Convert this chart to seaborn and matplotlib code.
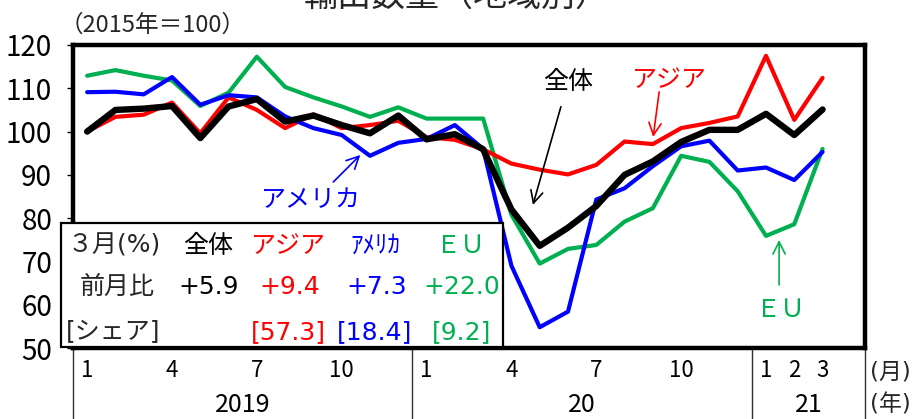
import matplotlib
matplotlib.use("Agg")
import matplotlib.pyplot as plt
from matplotlib.patches import Rectangle
import matplotlib.transforms as mtransforms
import numpy as np
import pandas as pd
import seaborn as sns

# ---- data: export volume index by region (2015 = 100), Jan 2019 - Mar 2021 ----
months = ["2019-01", "2019-02", "2019-03", "2019-04", "2019-05", "2019-06",
          "2019-07", "2019-08", "2019-09", "2019-10", "2019-11", "2019-12",
          "2020-01", "2020-02", "2020-03", "2020-04", "2020-05", "2020-06",
          "2020-07", "2020-08", "2020-09", "2020-10", "2020-11", "2020-12",
          "2021-01", "2021-02", "2021-03"]

total = [100.0, 105.0, 105.3, 105.9, 98.5, 105.8, 107.5, 102.3, 103.7, 101.5,
         99.6, 103.7, 98.2, 99.4, 95.9, 82.0, 73.6, 77.8, 82.8, 90.0,
         93.1, 97.6, 100.4, 100.4, 104.1, 99.2, 105.1]
asia = [100.0, 103.4, 103.9, 106.7, 99.6, 107.9, 105.0, 100.8, 104.0, 100.8,
        101.5, 102.5, 98.7, 98.1, 95.9, 92.6, 91.2, 90.1, 92.3, 97.7,
        97.1, 100.8, 102.0, 103.5, 117.5, 102.7, 112.4]
america = [109.1, 109.2, 108.6, 112.6, 106.2, 108.4, 107.9, 103.5, 100.8, 99.2,
           94.4, 97.4, 98.3, 101.5, 96.0, 69.0, 54.8, 58.4, 84.3, 86.9,
           92.0, 96.6, 97.9, 91.0, 91.7, 88.8, 95.3]
eu = [112.9, 114.2, 112.9, 111.8, 105.9, 109.0, 117.3, 110.3, 107.9, 105.8,
      103.4, 105.6, 103.0, 103.0, 103.0, 80.8, 69.5, 72.9, 73.8, 79.2,
      82.3, 94.4, 93.0, 86.2, 75.9, 78.6, 96.0]

month_tick_pos = [0, 3, 6, 9, 12, 15, 18, 21, 24, 25, 26]
month_tick_labels = ["1", "4", "7", "10", "1", "4", "7", "10", "1", "2", "3"]
year_labels = ["2019", "20", "21"]
year_bounds = [-0.5, 11.5, 23.5, 27.5]

# March 2021 summary table
tbl_regions = ["全体", "アジア", "ｱﾒﾘｶ", "ＥＵ"]
tbl_mom = ["+5.9", "+9.4", "+7.3", "+22.0"]
tbl_share = ["", "[57.3]", "[18.4]", "[9.2]"]

RED, BLUE, GREEN, BLACK = "#FF0000", "#0000FF", "#00B050", "#000000"

sns.set_theme(style="white")
plt.rcParams["font.family"] = ["DejaVu Sans", "Noto Sans CJK JP"]
NUM_FONT = ["Liberation Sans Narrow", "Noto Sans CJK JP"]

W, H = 919, 419
fig = plt.figure(figsize=(W / 100, H / 100), dpi=100)


def fx(px):
    return px / W


def fy(py):
    return 1 - py / H


ax = fig.add_axes([fx(73), fy(348), fx(865) - fx(73), fy(45) - fy(348)])

x = np.arange(len(months))
df = pd.DataFrame({"x": x, "全体": total, "アジア": asia,
                   "アメリカ": america, "ＥＵ": eu})

for col, color, lw in [("ＥＵ", GREEN, 3.0), ("アジア", RED, 3.0),
                       ("アメリカ", BLUE, 3.0), ("全体", BLACK, 4.6)]:
    sns.lineplot(data=df, x="x", y=col, color=color, linewidth=lw,
                 ax=ax, legend=False, sort=False)

ax.set_xlim(-0.5, 27.5)
ax.set_ylim(50, 120)
ax.set_xlabel("")
ax.set_ylabel("")

for s in ax.spines.values():
    s.set_visible(True)
    s.set_color("black")
    s.set_linewidth(3.2)

ax.set_yticks(range(50, 121, 10))
ax.tick_params(axis="y", left=True, length=4.5, width=1.0, color="black",
               pad=10.5, labelcolor="black")
ax.set_xticks(month_tick_pos)
ax.set_xticklabels(month_tick_labels)
ax.tick_params(axis="x", bottom=False, length=0, pad=8, labelcolor="black")
for t in ax.get_yticklabels():
    t.set_fontfamily(NUM_FONT)
    t.set_fontsize(20)
for t in ax.get_xticklabels():
    t.set_fontfamily(NUM_FONT)
    t.set_fontsize(16)

# year separators and year labels under the axis
trans = mtransforms.blended_transform_factory(ax.transData, ax.transAxes)
for b in year_bounds:
    ax.plot([b, b], [0, -0.3], color="#303030", lw=1.0, transform=trans,
            clip_on=False, zorder=1)
for i, lab in enumerate(year_labels):
    xm = (year_bounds[i] + year_bounds[i + 1]) / 2
    ax.text(xm, -0.188, lab, transform=trans, ha="center", va="center",
            fontsize=18, family=NUM_FONT, color="black")

fig.text(fx(870), fy(372), "(月)", ha="left", va="center", fontsize=16.5)
fig.text(fx(870), fy(405), "(年)", ha="left", va="center", fontsize=16.5)

# unit and title
fig.text(fx(60), fy(25), "（2015年＝100）", ha="left", va="center",
         fontsize=17, family=NUM_FONT)
fig.text(fx(457), fy(5.5), "輸出数量（地域別）", ha="center", va="baseline",
         fontsize=24.5)


def dx(px):
    return (px - 86.7) / 28.3


def dy(py):
    return 100 - (py - 131.6) / 4.33


# series callouts with arrows
callouts = [
    ("全体", BLACK, (568, 82), (560.7, 106.7), (532.7, 205)),
    ("アジア", RED, (669, 80), (659, 92), (653, 137)),
    ("アメリカ", BLUE, (311, 200), (333, 182), (360, 155)),
    ("ＥＵ", GREEN, (780, 310), (779, 285), (779, 240)),
]
for label, color, tpos, start, end in callouts:
    ax.text(dx(tpos[0]), dy(tpos[1]), label, color=color, fontsize=18,
            ha="center", va="center")
    ax.annotate("", xy=(dx(end[0]), dy(end[1])),
                xytext=(dx(start[0]), dy(start[1])),
                arrowprops=dict(arrowstyle="->", color=color, lw=1.2,
                                mutation_scale=22, shrinkA=0, shrinkB=0))

# summary box
box = Rectangle((fx(61), fy(347)), fx(503) - fx(61), fy(223) - fy(347),
                transform=fig.transFigure, facecolor="white",
                edgecolor="black", linewidth=1.6, zorder=5)
fig.add_artist(box)

tcolors = [BLACK, RED, BLUE, GREEN]
head_x = [208, 288, 375, 460]
mom_x = [209, 290, 377, 462]
share_x = [208, 288, 375, 462]
fs = 18
fig.text(fx(68), fy(246), "３月(%)", ha="left", va="center", fontsize=fs,
         zorder=6)
fig.text(fx(117), fy(287), "前月比", ha="center", va="center", fontsize=fs,
         zorder=6)
fig.text(fx(66), fy(332), "[シェア]", ha="left", va="center", fontsize=fs,
         zorder=6)
for i in range(4):
    fig.text(fx(head_x[i]), fy(246), tbl_regions[i], color=tcolors[i],
             ha="center", va="center", fontsize=fs, zorder=6)
    fig.text(fx(mom_x[i]), fy(287), tbl_mom[i], color=tcolors[i],
             ha="center", va="center", fontsize=fs, zorder=6)
    if tbl_share[i]:
        fig.text(fx(share_x[i]), fy(332), tbl_share[i], color=tcolors[i],
                 ha="center", va="center", fontsize=fs, zorder=6)

fig.savefig("out.png", dpi=100)
